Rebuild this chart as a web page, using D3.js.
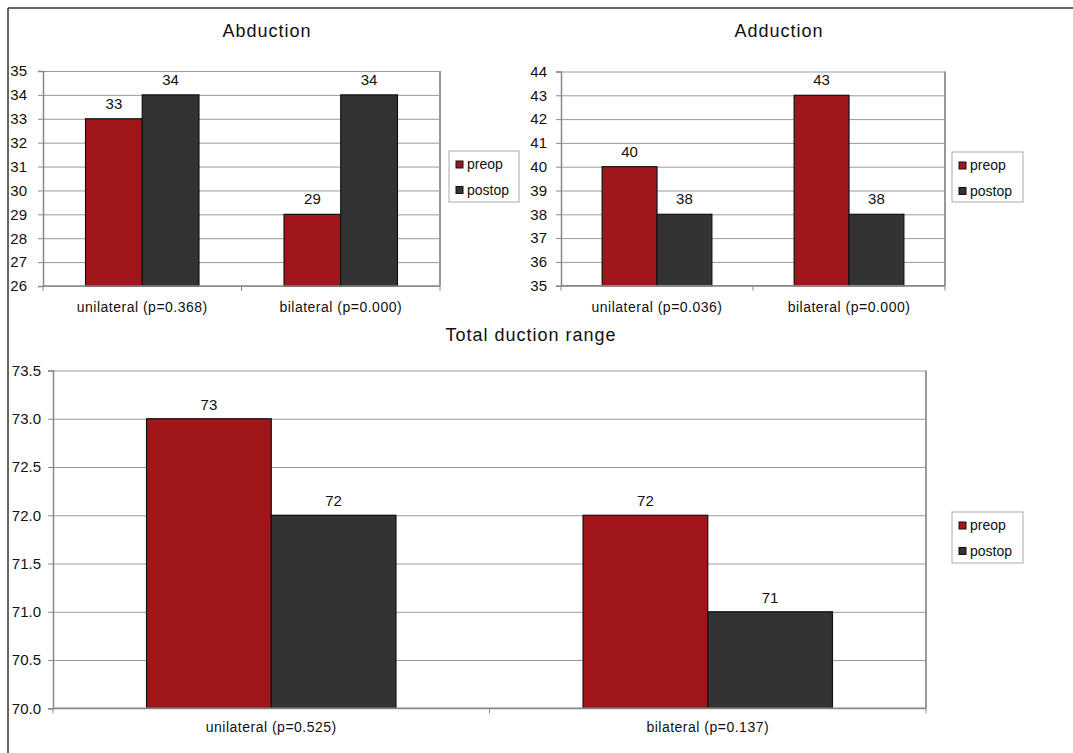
<!DOCTYPE html>
<html>
<head>
<meta charset="utf-8">
<script src="https://cdn.jsdelivr.net/npm/d3@7"></script>
<style>
  html, body { margin: 0; padding: 0; background: #fff; }
  svg { display: block; font-family: "Liberation Sans", Arial, sans-serif; }
</style>
</head>
<body>
<svg id="fig" width="1073" height="753"></svg>
<script>
// Series shown in every panel
const seriesNames = ["preop", "postop"];
const seriesColors = ["#a1161b", "#333333"];

// Abduction panel
const abductionCategories = ["unilateral (p=0.368)", "bilateral (p=0.000)"];
const abductionPreop = [33, 29];
const abductionPostop = [34, 34];
const abductionTicks = [26, 27, 28, 29, 30, 31, 32, 33, 34, 35];

// Adduction panel
const adductionCategories = ["unilateral (p=0.036)", "bilateral (p=0.000)"];
const adductionPreop = [40, 43];
const adductionPostop = [38, 38];
const adductionTicks = [35, 36, 37, 38, 39, 40, 41, 42, 43, 44];

// Total duction range panel
const totalCategories = ["unilateral (p=0.525)", "bilateral (p=0.137)"];
const totalPreop = [73, 72];
const totalPostop = [72, 71];
const totalTicks = [70.0, 70.5, 71.0, 71.5, 72.0, 72.5, 73.0, 73.5];

const svg = d3.select("#fig");

// figure frame (top and left edges)
svg.append("line").attr("x1", 8).attr("y1", 8).attr("x2", 1073).attr("y2", 8)
  .attr("stroke", "#333").attr("stroke-width", 1.5);
svg.append("line").attr("x1", 8).attr("y1", 8).attr("x2", 8).attr("y2", 753)
  .attr("stroke", "#333").attr("stroke-width", 1.5);

function drawPanel(cfg) {
  const g = svg.append("g");
  const { left, right, top, bottom } = cfg.box;

  const y = d3.scaleLinear().domain([cfg.ticks[0], cfg.ticks[cfg.ticks.length - 1]]).range([bottom, top]);
  const x0 = d3.scaleBand().domain(cfg.categories).range([left, right]).padding(0);
  const x1 = d3.scaleBand().domain(seriesNames).range([0, x0.bandwidth()])
    .paddingInner(0).paddingOuter(0.75);

  // horizontal gridlines
  g.append("g")
    .attr("transform", `translate(${left},0)`)
    .call(d3.axisLeft(y).tickValues(cfg.ticks).tickSize(-(right - left)).tickFormat(""))
    .call(s => s.select(".domain").remove())
    .call(s => s.selectAll("line").attr("stroke", "#9a9a9a").attr("stroke-width", 1));

  // right edge of plot area
  g.append("line").attr("x1", right).attr("x2", right).attr("y1", top).attr("y2", bottom)
    .attr("stroke", "#999").attr("stroke-width", 2);

  // value axis
  const yAxis = g.append("g")
    .attr("transform", `translate(${left},0)`)
    .call(d3.axisLeft(y).tickValues(cfg.ticks).tickSize(5).tickPadding(cfg.tickPad)
      .tickFormat(cfg.tickFormat));
  yAxis.select(".domain").attr("stroke", "#888").attr("stroke-width", 1.5);
  yAxis.selectAll(".tick line").attr("stroke", "#888");
  yAxis.selectAll("text").attr("font-size", cfg.tickFont).attr("fill", "#111")
    .attr("font-family", "'Liberation Sans', Arial, sans-serif");

  // bars
  const rows = cfg.categories.map((c, i) => ({ cat: c, values: [cfg.preop[i], cfg.postop[i]] }));
  const grp = g.selectAll(".grp").data(rows).join("g")
    .attr("transform", d => `translate(${x0(d.cat)},0)`);
  grp.selectAll("rect").data(d => d.values.map((v, k) => ({ key: seriesNames[k], v, k })))
    .join("rect")
    .attr("x", d => x1(d.key))
    .attr("y", d => y(d.v))
    .attr("width", x1.bandwidth())
    .attr("height", d => y.range()[0] - y(d.v))
    .attr("fill", d => seriesColors[d.k])
    .attr("stroke", "#111").attr("stroke-width", 1.2);
  grp.selectAll("text").data(d => d.values.map((v, k) => ({ key: seriesNames[k], v })))
    .join("text")
    .attr("x", d => x1(d.key) + x1.bandwidth() / 2)
    .attr("y", d => y(d.v) - cfg.labelGap)
    .attr("text-anchor", "middle")
    .attr("font-size", cfg.labelFont)
    .attr("fill", "#111")
    .text(d => d3.format(".0f")(d.v));

  // category axis
  g.append("line").attr("x1", left).attr("x2", right).attr("y1", bottom).attr("y2", bottom)
    .attr("stroke", "#888").attr("stroke-width", 1.5);
  const bounds = cfg.categories.map(c => x0(c)).concat([x0.range()[1]]);
  g.selectAll(".xtick").data(bounds).join("line")
    .attr("x1", d => d).attr("x2", d => d)
    .attr("y1", bottom).attr("y2", bottom + 5)
    .attr("stroke", "#888");
  g.selectAll(".xlabel").data(cfg.categories).join("text")
    .attr("x", d => x0(d) + x0.bandwidth() / 2)
    .attr("y", bottom + cfg.catGap)
    .attr("text-anchor", "middle")
    .attr("font-size", cfg.catFont)
    .attr("letter-spacing", cfg.catSpacing)
    .attr("fill", "#111")
    .text(d => d);

  // title
  g.append("text")
    .attr("x", cfg.titleX).attr("y", cfg.titleY)
    .attr("text-anchor", "middle")
    .attr("font-size", 18).attr("letter-spacing", 1)
    .attr("fill", "#111")
    .text(cfg.title);

  // legend
  const L = cfg.legend;
  g.append("rect").attr("x", L.x).attr("y", L.y).attr("width", L.w).attr("height", L.h)
    .attr("fill", "#fff").attr("stroke", "#aaa").attr("stroke-width", 1);
  const items = g.selectAll(".leg").data(seriesNames).join("g")
    .attr("transform", (d, i) => `translate(${L.x + 7},${L.y + 10 + i * 25.5})`);
  items.append("rect").attr("width", 7).attr("height", 7)
    .attr("fill", (d, i) => seriesColors[i]).attr("stroke", "#111").attr("stroke-width", 1);
  items.append("text").attr("x", 11).attr("y", 8)
    .attr("font-size", 14).attr("fill", "#111").text(d => d);
}

drawPanel({
  title: "Abduction", titleX: 267, titleY: 37,
  categories: abductionCategories, preop: abductionPreop, postop: abductionPostop,
  ticks: abductionTicks, tickFormat: d3.format("d"),
  box: { left: 43, right: 440, top: 71, bottom: 286 },
  tickPad: 11, tickFont: 15, labelFont: 15, labelGap: 10,
  catFont: 14, catSpacing: 0.5, catGap: 26,
  legend: { x: 449, y: 151, w: 70, h: 51 }
});

drawPanel({
  title: "Adduction", titleX: 779, titleY: 37,
  categories: adductionCategories, preop: adductionPreop, postop: adductionPostop,
  ticks: adductionTicks, tickFormat: d3.format("d"),
  box: { left: 561, right: 945, top: 71.5, bottom: 285.7 },
  tickPad: 9, tickFont: 15, labelFont: 15, labelGap: 10,
  catFont: 14, catSpacing: 0.5, catGap: 26,
  legend: { x: 952, y: 152, w: 71, h: 50 }
});

drawPanel({
  title: "Total duction range", titleX: 531, titleY: 341,
  categories: totalCategories, preop: totalPreop, postop: totalPostop,
  ticks: totalTicks, tickFormat: d3.format(".1f"),
  box: { left: 53, right: 926, top: 370.5, bottom: 708.3 },
  tickPad: 7, tickFont: 15, labelFont: 15, labelGap: 9,
  catFont: 14, catSpacing: 0.5, catGap: 24,
  legend: { x: 952, y: 512, w: 71, h: 51 }
});
</script>
</body>
</html>
